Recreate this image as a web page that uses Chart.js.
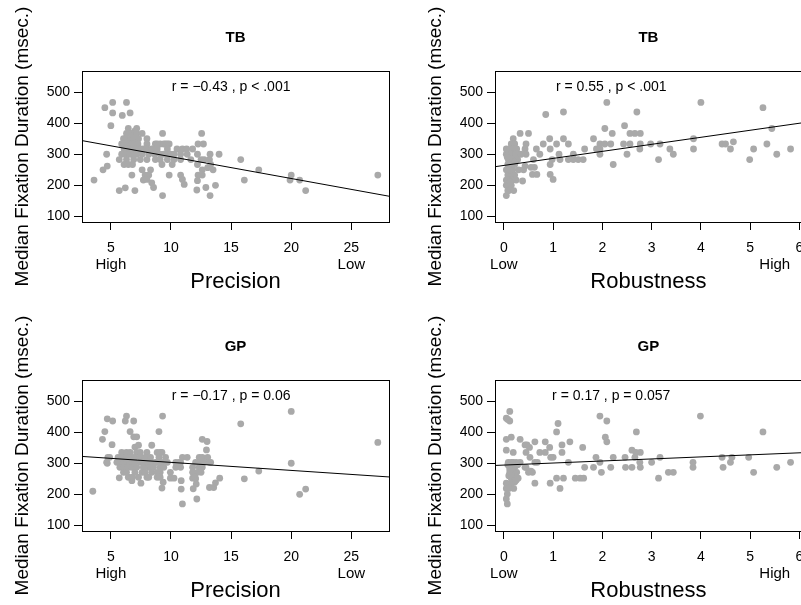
<!DOCTYPE html>
<html><head><meta charset="utf-8">
<script src="https://cdn.jsdelivr.net/npm/chart.js@4.4.1/dist/chart.umd.min.js"></script>
<style>
html,body{margin:0;padding:0;background:#fff;overflow:hidden;}
#wrap{position:relative;width:801px;height:605px;overflow:hidden;background:#fff;}
canvas{position:absolute;}
</style></head><body>
<div id="wrap">
<canvas id="c1" width="400" height="296" style="left:0;top:0"></canvas>
<canvas id="c2" width="400" height="296" style="left:413px;top:0"></canvas>
<canvas id="c3" width="400" height="296" style="left:0;top:309px"></canvas>
<canvas id="c4" width="400" height="296" style="left:413px;top:309px"></canvas>
</div>
<script>
// ---------- data ----------
const panelTitles = ['TB', 'TB', 'GP', 'GP'];
const yTitle = 'Median Fixation Duration (msec.)';
const yTicks = [100, 200, 300, 400, 500];
const yRange = [82, 568];
const precisionTicks = [5, 10, 15, 20, 25];
const precisionRange = [2.6, 28.13];
const robustnessTicks = [0, 1, 2, 3, 4, 5, 6];
const robustnessRange = [-0.18, 6.05];
const precisionEnds = [{value: 5, text: 'High'}, {value: 25, text: 'Low'}];
const robustnessEnds = [{value: 0, text: 'Low'}, {value: 5.5, text: 'High'}];
const notes = ['r = \u22120.43 , p < .001', 'r = 0.55 , p < .001', 'r = \u22120.17 , p = 0.06', 'r = 0.17 , p = 0.057'];
const notePrecision = {x: 15, y: 515};
const noteRobustness = {x: 2.18, y: 515};

// regression lines (end points)
const fitTbPrecision = [[2.6, 344], [28.13, 165]];
const fitTbRobustness = [[-0.18, 260], [6.05, 401]];
const fitGpPrecision = [[2.6, 322], [28.13, 256]];
const fitGpRobustness = [[-0.18, 293], [6.05, 334]];

const tbPrecision = [
[4.5,450],[5.15,467],[6.3,467],[5.15,433],[6.6,433],[5.95,425],[5.0,392],[6.45,383],[7.15,383],[7.0,375],
[6.3,367],[6.75,367],[7.0,367],[7.15,367],[7.6,367],[9.3,367],[12.55,367],
[6.05,350],[6.2,350],[6.65,350],[6.9,350],[7.3,350],[8.0,350],
[5.9,333],[6.1,333],[6.45,333],[6.75,333],[6.9,333],[7.25,333],[8.0,333],[8.7,333],[8.85,333],[9.1,333],[9.4,333],[9.55,333],[9.7,333],[9.85,333],[12.25,333],[12.7,333],
[6.1,317],[6.45,317],[6.8,317],[7.15,317],[7.45,317],[7.7,317],[8.0,317],[8.4,317],[8.85,317],[9.7,317],[10.5,317],[10.95,317],[11.3,317],[11.8,317],
[4.65,300],[5.9,300],[6.2,300],[6.6,300],[6.9,300],[7.15,300],[7.6,300],[8.15,300],[8.65,300],[9.1,300],[9.4,300],[9.7,300],[9.95,300],[10.25,300],[10.8,300],[11.35,300],[12.2,300],[13.25,300],[14.0,300],
[5.7,283],[6.3,283],[6.9,283],[7.45,283],[8.0,283],[8.7,283],[9.1,283],[9.7,283],[10.25,283],[10.8,283],[11.65,283],[12.5,283],[12.75,283],[13.2,283],[15.8,283],
[6.1,267],[6.45,267],[6.8,267],[9.25,267],[10.1,267],[12.2,267],[13.3,267],[4.7,262],
[4.35,250],[7.6,250],[8.3,250],[12.6,250],[13.5,250],[17.3,250],[13.05,257],
[6.75,233],[7.85,233],[8.15,233],[9.85,233],[10.8,233],[12.25,233],[12.6,233],[20.0,233],[27.2,233],
[3.6,217],[7.7,217],[8.0,219],[10.95,219],[12.2,215],[16.1,217],[19.9,217],[20.7,217],
[8.4,208],[11.1,203],[13.7,200],
[6.2,192],[8.55,193],[12.9,193],
[5.7,183],[7.0,183],[12.15,185],[21.2,183],
[9.3,167],[13.25,167]
];

const tbRobustness = [
[2.09,467],[4.0,467],[5.26,450],[0.85,428],[1.21,436],[2.7,436],[2.45,392],[2.05,383],[5.44,383],
[0.33,367],[0.5,367],[2.2,367],[2.56,367],[2.66,367],[2.77,367],
[0.19,350],[0.93,350],[1.21,350],[1.82,350],[3.85,350],
[0.45,333],[0.8,333],[1.07,333],[1.31,333],[1.95,333],[2.05,333],[2.17,333],[2.43,333],[2.56,333],[2.77,333],[2.98,333],[3.17,333],[4.43,333],[4.5,333],[5.34,333],[4.66,340],[0.15,333],[0.22,333],
[0.05,317],[0.12,317],[0.26,317],[0.43,317],[0.66,317],[0.94,317],[1.64,317],[1.88,317],[1.95,317],[2.76,317],[3.37,317],[3.85,317],[4.6,317],[5.07,317],[5.82,317],[0.2,317],
[0.05,300],[0.1,300],[0.19,300],[0.3,300],[0.45,300],[0.73,300],[1.12,300],[1.41,300],[1.95,300],[2.5,300],[3.44,300],[5.54,300],[0.15,300],
[0.09,283],[0.18,283],[0.26,283],[0.6,283],[0.98,283],[1.14,283],[1.31,283],[1.41,283],[1.51,283],[1.61,283],[3.14,283],[4.99,283],[0.12,290],
[0.94,267],[2.22,267],[0.08,267],[0.15,267],[0.22,267],[0.43,262],
[0.05,250],[0.1,250],[0.18,250],[0.3,250],[0.4,250],[0.55,258],[0.62,258],
[0.08,233],[0.15,233],[0.22,233],[0.58,235],[0.67,235],[0.94,235],
[0.05,217],[0.12,217],[0.18,217],[0.25,217],[1.0,219],[0.38,214],
[0.05,200],[0.1,200],[0.15,200],
[0.08,183],[0.1,183],[0.2,183],
[0.05,167],
[0.12,250],[0.2,233],[0.1,267],[0.25,300],[0.17,217],[0.07,290],[0.13,210],[0.28,283],[0.35,300],[0.22,275]
];

const gpPrecision = [
[3.5,210],[4.3,377],[4.5,402],[4.7,443],[5.15,436],[6.3,452],[6.2,436],[6.9,436],[6.6,402],[7.15,385],[6.9,385],[9.3,452],[9.0,402],
[15.8,427],[20.0,467],[20.0,300],[20.7,200],[21.2,217],[27.2,367],[17.3,275],[16.1,250],
[5.1,360],[4.75,319],[4.7,300],[5.7,253],[6.45,255],[6.75,244],[7.5,236],[9.25,220],[9.35,239],[10.95,169],[10.85,217],[10.85,244],[12.15,185],
[12.6,377],[13.0,370],[12.95,343],[13.3,303],[13.2,222],[13.55,222],[13.7,237],[14.05,252],[11.8,252],[12.05,250],[12.1,233],[11.85,218],[7.0,352],[7.3,358],[8.4,358],
[5.9,335],[6.3,335],[6.6,335],[7.15,335],[7.45,335],[8.0,335],[8.85,335],[9.1,335],[9.25,335],
[4.9,319],[5.6,319],[5.9,319],[6.3,319],[6.75,319],[7.0,319],[7.45,319],[7.85,319],[8.3,319],[9.0,319],[9.55,319],[10.95,319],[11.35,319],[12.35,319],[12.6,319],[13.05,319],
[4.65,303],[5.5,303],[5.75,303],[6.05,303],[6.3,303],[6.6,303],[7.0,303],[7.45,303],[7.7,303],[8.0,303],[8.4,303],[8.7,303],[8.85,303],[9.25,303],[9.7,303],[10.4,303],[10.65,303],[10.8,303],[12.05,303],[12.5,303],[12.75,303],[13.2,303],
[5.75,287],[6.05,287],[6.45,287],[6.75,287],[7.15,287],[7.7,287],[8.15,287],[8.3,287],[8.55,287],[9.1,287],[9.4,287],[10.4,287],[10.8,287],[11.8,287],[12.35,287],[12.6,287],
[6.05,271],[6.3,271],[7.0,271],[7.6,271],[7.85,271],[8.4,271],[8.85,271],[9.1,271],[9.95,271],[11.8,271],[12.2,271],[12.5,271],
[6.8,255],[7.3,255],[8.0,255],[8.15,255],[8.85,255],[9.1,255],[9.95,252],[10.25,252],[12.0,255]
];

const gpRobustness = [
[0.12,467],[0.08,441],[0.12,436],[0.05,445],[1.95,452],[3.99,452],[2.09,436],[1.1,428],[1.07,401],[2.69,401],[5.26,401],
[0.15,384],[2.06,384],[2.09,369],[0.05,377],[0.33,377],[0.63,369],[0.84,369],[1.34,369],[1.18,359],[0.43,359],[0.52,351],[0.93,351],[1.6,351],[0.05,342],[0.47,359],
[0.19,335],[0.45,335],[0.73,335],[0.84,335],[1.18,335],[2.6,342],[2.68,335],[2.77,335],
[0.53,319],[1.0,319],[1.87,319],[2.22,319],[2.66,319],[3.17,319],[4.43,319],[4.63,319],[4.97,319],[2.46,319],[0.95,319],
[0.09,303],[0.19,303],[0.33,303],[0.63,303],[0.68,303],[1.31,303],[1.95,303],[2.76,303],[3.0,303],[3.84,303],[4.6,303],[5.82,303],[0.15,303],[0.25,303],
[0.12,287],[0.22,287],[0.43,287],[0.45,287],[1.64,287],[1.82,287],[2.17,287],[2.47,287],[2.6,287],[2.77,287],[3.84,287],[4.45,287],[5.54,287],
[0.12,271],[0.26,271],[0.5,271],[0.58,271],[1.98,271],[3.34,271],[3.44,271],[5.07,271],[0.18,271],[0.55,275],
[0.22,252],[0.29,252],[1.07,252],[1.21,252],[1.45,252],[1.55,252],[1.62,252],[3.14,252],[0.15,252],
[0.05,236],[0.15,236],[0.63,236],[0.94,236],[0.22,240],
[0.05,219],[0.2,219],[1.14,219],[0.1,219],
[0.07,201],[0.05,185],[0.07,169],
[0.1,260],[0.2,260],[0.25,245],[0.15,265],[0.12,280],[0.28,295],[0.08,295],[0.3,300]
];

// ---------- drawing ----------
const FONT = '"Liberation Sans", Arial, Helvetica, sans-serif';
const POINT_COLOR = '#A9A9A9';

const rStyle = {
  id: 'rStyle',
  afterDatasetsDraw(chart, args, o) {
    const {ctx, chartArea: a, scales: {x, y}} = chart;
    ctx.save();
    ctx.strokeStyle = '#000';
    ctx.lineWidth = 1;
    ctx.strokeRect(Math.round(a.left) + 0.5, Math.round(a.top) + 0.5,
                   Math.round(a.right - a.left), Math.round(a.bottom - a.top));
    ctx.fillStyle = '#000';
    ctx.textAlign = 'center';
    ctx.textBaseline = 'middle';
    ctx.font = '14px ' + FONT;
    ctx.fillText(o.note, x.getPixelForValue(o.notePos.x), y.getPixelForValue(o.notePos.y));
    ctx.font = '15px ' + FONT;
    o.ends.forEach(e => ctx.fillText(e.text, x.getPixelForValue(e.value), a.bottom + 43));
    // y axis title
    ctx.font = '19px ' + FONT;
    ctx.translate(22.5, (a.top + a.bottom) / 2);
    ctx.rotate(-Math.PI / 2);
    ctx.fillText(yTitle, 0, 0);
    ctx.restore();
  }
};

function makePanel(id, title, points, fit, xRange, xTicks, ends, xTitle, note, notePos) {
  const gridOpts = {drawOnChartArea: false, drawTicks: true, tickLength: 8, color: '#000', lineWidth: 1};
  new Chart(document.getElementById(id), {
    type: 'scatter',
    data: {
      datasets: [
        {data: fit.map(p => ({x: p[0], y: p[1]})), showLine: true, borderColor: '#000', borderWidth: 1,
         pointRadius: 0, order: 0, fill: false},
        {data: points.map(p => ({x: p[0], y: p[1]})), pointRadius: 3.4, pointBackgroundColor: POINT_COLOR,
         pointBorderWidth: 0, borderColor: POINT_COLOR, order: 1}
      ]
    },
    options: {
      responsive: false, animation: false, devicePixelRatio: 1, events: [],
      layout: {padding: {left: 0, right: 11, top: 0, bottom: 0}},
      plugins: {
        legend: {display: false}, tooltip: {enabled: false},
        title: {display: true, text: title, fullSize: false, color: '#000',
                font: {family: FONT, size: 15, weight: 'bold', lineHeight: 1.2},
                padding: {top: 29, bottom: 24}},
        rStyle: {note: note, notePos: notePos, ends: ends}
      },
      scales: {
        x: {
          type: 'linear', min: xRange[0], max: xRange[1],
          afterBuildTicks: s => { s.ticks = xTicks.map(v => ({value: v})); },
          afterFit: s => { s.height = 74; },
          grid: gridOpts, border: {display: false},
          ticks: {color: '#000', font: {family: FONT, size: 14, lineHeight: 1.2}, padding: 9.6,
                  maxRotation: 0, autoSkip: false, callback: v => String(v)},
          title: {display: true, text: xTitle, color: '#000',
                  font: {family: FONT, size: 22, lineHeight: 1.2}, padding: {top: 0, bottom: 1}}
        },
        y: {
          type: 'linear', min: yRange[0], max: yRange[1],
          afterBuildTicks: s => { s.ticks = yTicks.map(v => ({value: v})); },
          afterFit: s => { s.width = 82; },
          grid: gridOpts, border: {display: false},
          ticks: {color: '#000', font: {family: FONT, size: 14}, padding: 4, callback: v => String(v)}
        }
      }
    },
    plugins: [rStyle]
  });
}

makePanel('c1', panelTitles[0], tbPrecision, fitTbPrecision, precisionRange, precisionTicks, precisionEnds, 'Precision', notes[0], notePrecision);
makePanel('c2', panelTitles[1], tbRobustness, fitTbRobustness, robustnessRange, robustnessTicks, robustnessEnds, 'Robustness', notes[1], noteRobustness);
makePanel('c3', panelTitles[2], gpPrecision, fitGpPrecision, precisionRange, precisionTicks, precisionEnds, 'Precision', notes[2], notePrecision);
makePanel('c4', panelTitles[3], gpRobustness, fitGpRobustness, robustnessRange, robustnessTicks, robustnessEnds, 'Robustness', notes[3], noteRobustness);
</script>
</body></html>
